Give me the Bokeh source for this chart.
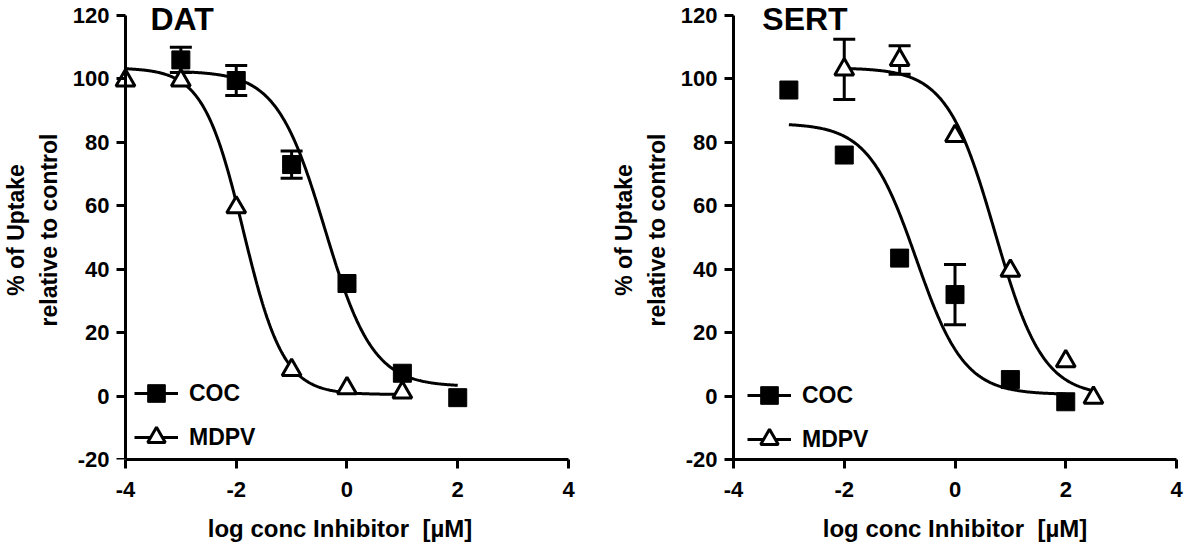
import numpy as np
from bokeh.plotting import figure
from bokeh.models import (ColumnDataSource, Whisker, TeeHead, FixedTicker, Range1d,
                          Label, Legend, LegendItem, LinearAxis)
from bokeh.layouts import row
from bokeh.embed import file_html
from bokeh.resources import INLINE

# ---------------- data ----------------
x_ticks = [-4, -2, 0, 2, 4]
y_ticks = [-20, 0, 20, 40, 60, 80, 100, 120]
x_label = "log conc Inhibitor\u00a0 [\u00b5M]"
y_label = "% of Uptake\nrelative to control"
series_names = ["COC", "MDPV"]

# DAT panel
dat_coc_x = [-3, -2, -1, 0, 1, 2]
dat_coc_y = [106, 99.5, 73, 35.5, 7.2, -0.5]
dat_coc_err = [4.0, 4.7, 4.3, 0, 0, 0]
dat_mdpv_x = [-4, -3, -2, -1, 0, 1]
dat_mdpv_y = [99.5, 99.5, 59.5, 8.2, 2.5, 1.1]
dat_mdpv_err = [0, 0, 0, 0, 0, 0]

# SERT panel
sert_coc_x = [-3, -2, -1, 0, 1, 2]
sert_coc_y = [96.5, 76, 43.5, 32, 5.2, -1.8]
sert_coc_err = [0, 0, 0, 9.5, 0, 0]
sert_mdpv_x = [-2, -1, 0, 1, 2, 2.5]
sert_mdpv_y = [103, 106, 82, 39.5, 11, -0.5]
sert_mdpv_err = [9.5, 4.5, 0, 0, 0, 0]

# fitted sigmoidal dose-response parameters: top, bottom, logIC50, hill slope
dat_coc_fit = [102.5, 3.0, -0.40, 1.0]
dat_mdpv_fit = [103.5, 0.5, -1.87, 1.2]
sert_coc_fit = [86.0, 0.5, -0.70, 1.0]
sert_mdpv_fit = [103.5, 0.0, 0.72, 1.0]
# extent of each fitted curve (log conc)
dat_coc_span = [-3, 2]
dat_mdpv_span = [-4, 1]
sert_coc_span = [-3, 2]
sert_mdpv_span = [-2, 2.5]

FONT = "Liberation Sans"

# layout (pixels): axis box spans -20..120 over 444 px, with 15 px of head-room above it
AXIS_PX = 444
HEAD_PX = 15
TICK_OUT = 9
Y_STANDOFF = 7
X_MIN, X_MAX = -4, 4
Y_MIN, Y_MAX = -20, 120
Y_TOP = Y_MAX + HEAD_PX * (Y_MAX - Y_MIN) / AXIS_PX


def fit_curve(params, span):
    top, bottom, logec, hill = params
    xs = np.linspace(span[0], span[1], 300)
    ys = bottom + (top - bottom) / (1 + 10 ** ((xs - logec) * hill))
    return xs, ys


def add_series(p, xs, ys, errs, params, span, marker, fill):
    cx, cy = fit_curve(params, span)
    line_r = p.line(cx, cy, line_color="black", line_width=3)
    bx = [x for x, e in zip(xs, errs) if e > 0]
    if bx:
        up = [y + e for y, e in zip(ys, errs) if e > 0]
        lo = [y - e for y, e in zip(ys, errs) if e > 0]
        src = ColumnDataSource(dict(base=bx, upper=up, lower=lo))
        w = Whisker(source=src, base="base", upper="upper", lower="lower",
                    line_color="black", line_width=3,
                    upper_head=TeeHead(size=22, line_width=3, line_color="black"),
                    lower_head=TeeHead(size=22, line_width=3, line_color="black"))
        p.add_layout(w)
    if marker == "square":
        sc = p.scatter(xs, ys, marker="square", size=18, fill_color=fill,
                       line_color="black", line_width=1)
    else:
        sc = p.scatter(xs, ys, marker="triangle", size=19, fill_color=fill,
                       line_color="black", line_width=3)
    return line_r, sc


def style_labels(ax):
    ax.major_label_text_font = FONT
    ax.major_label_text_font_style = "bold"
    ax.major_label_text_font_size = "22px"
    ax.major_label_text_color = "black"
    ax.axis_label_text_font = FONT
    ax.axis_label_text_font_style = "bold"
    ax.axis_label_text_color = "black"


def make_panel(title, title_x, width, axis_left_px, pad_px, br, coc, mdpv, legend_loc):
    x_start = X_MIN - pad_px * (X_MAX - X_MIN) / AXIS_PX
    p = figure(width=width, height=548, x_range=Range1d(x_start, X_MAX),
               y_range=Range1d(Y_MIN, Y_TOP),
               output_backend="svg", toolbar_location=None,
               min_border_left=axis_left_px - pad_px, min_border_right=br,
               min_border_top=0, min_border_bottom=89)
    p.outline_line_color = None
    p.xgrid.grid_line_color = None
    p.ygrid.grid_line_color = None
    p.background_fill_color = "white"
    p.border_fill_color = "white"

    xa = p.xaxis[0]
    ya = p.yaxis[0]
    xa.ticker = FixedTicker(ticks=x_ticks)
    ya.ticker = FixedTicker(ticks=y_ticks)
    ya.bounds = (Y_MIN, Y_MAX)
    xa.bounds = (X_MIN, X_MAX)
    xa.major_label_overrides = {t: str(t) for t in x_ticks}
    xa.axis_label = x_label
    for ax in (xa, ya):
        ax.axis_line_color = "black"
        ax.axis_line_width = 3
        ax.major_tick_line_color = "black"
        ax.major_tick_line_width = 3
        ax.major_tick_out = TICK_OUT
        ax.major_tick_in = 0
        ax.minor_tick_line_color = None
        style_labels(ax)
    xa.axis_label_text_font_size = "24px"
    xa.major_label_standoff = 13
    xa.axis_label_standoff = 15

    if pad_px > 0:
        # axis line + ticks drawn at x = -4 inside a slightly wider frame,
        # labels carried by a line-less axis at the frame edge
        ya.fixed_location = X_MIN
        ya.major_label_overrides = {t: "" for t in y_ticks}
        lab = LinearAxis(ticker=FixedTicker(ticks=y_ticks), bounds=(Y_MIN, Y_MAX),
                         axis_line_color=None, major_tick_line_color=None,
                         minor_tick_line_color=None, major_tick_out=0, major_tick_in=0,
                         major_label_standoff=TICK_OUT + Y_STANDOFF - pad_px,
                         major_label_overrides={t: str(t) for t in y_ticks},
                         axis_label=y_label)
        style_labels(lab)
        p.add_layout(lab, "left")
    else:
        lab = ya
        lab.major_label_overrides = {t: str(t) for t in y_ticks}
        lab.major_label_standoff = Y_STANDOFF
        lab.axis_label = y_label
    lab.axis_label_text_font_size = "23px"
    lab.axis_label_standoff = 8
    lab.axis_label_text_line_height = 1.25

    r1 = add_series(p, *coc, "square", "black")
    r2 = add_series(p, *mdpv, "triangle", "white")

    legend = Legend(items=[LegendItem(label=series_names[0], renderers=list(r1)),
                           LegendItem(label=series_names[1], renderers=list(r2))],
                    location=(legend_loc[0] + pad_px, legend_loc[1]),
                    glyph_width=44, glyph_height=44, spacing=0,
                    padding=0, margin=0, border_line_color=None, background_fill_alpha=0,
                    label_text_font=FONT, label_text_font_style="bold",
                    label_text_font_size="23px", label_text_color="black", label_standoff=11)
    p.add_layout(legend)

    p.add_layout(Label(x=title_x, y=119, text=title, text_font=FONT, text_font_style="bold",
                       text_font_size="32px", text_color="black", text_baseline="middle",
                       text_align="left"))
    return p


left = make_panel("DAT", -3.55, 593, 124, 14, 25,
                  (dat_coc_x, dat_coc_y, dat_coc_err, dat_coc_fit, dat_coc_span),
                  (dat_mdpv_x, dat_mdpv_y, dat_mdpv_err, dat_mdpv_fit, dat_mdpv_span),
                  (9, 0))
right = make_panel("SERT", -3.48, 593, 140, 0, 10,
                   (sert_coc_x, sert_coc_y, sert_coc_err, sert_coc_fit, sert_coc_span),
                   (sert_mdpv_x, sert_mdpv_y, sert_mdpv_err, sert_mdpv_fit, sert_mdpv_span),
                   (14, -2))

layout = row(left, right)
open("out.html", "w").write(file_html(layout, INLINE))
